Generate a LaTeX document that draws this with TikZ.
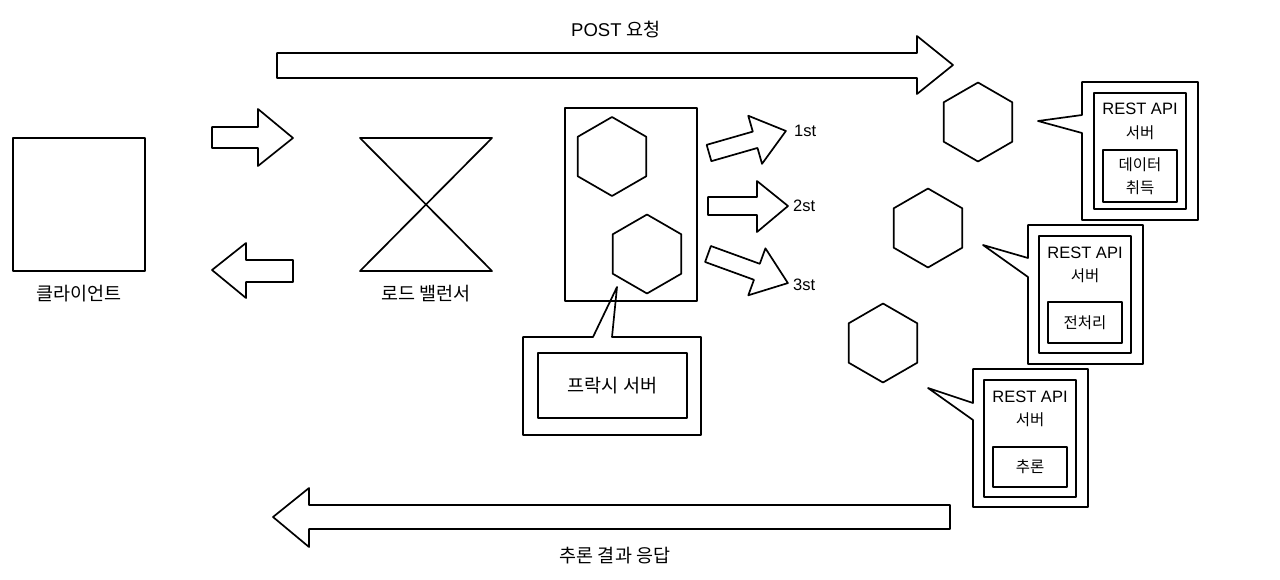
\documentclass[tikz,border=0pt]{standalone}
\usepackage{fontspec}
\setmainfont{Liberation Sans}
\newfontfamily\kr{Noto Sans CJK KR}
\usetikzlibrary{shapes.geometric}
\begin{document}
\begin{tikzpicture}[x=1pt,y=-1pt,
  ln/.style={line width=1.7pt, line join=round},
  box/.style={draw, ln, inner sep=0pt},
  hexa/.style={draw, ln, regular polygon, regular polygon sides=6, regular polygon rotate=30, minimum size=79pt, inner sep=0pt, outer sep=0pt},
  biglbl/.style={inner sep=0pt, font=\fontsize{18.5}{21}\selectfont},
  smalllbl/.style={inner sep=0pt, font=\fontsize{15.5}{18}\selectfont},
  latlbl/.style={inner sep=0pt, font=\fontsize{16.5}{19}\selectfont}]
\useasboundingbox (0,0) rectangle (1280,579);
\fill[white] (0,0) rectangle (1280,579);

% client
\node[box, minimum width=132pt, minimum height=133pt] (client) at (79,204.5) {};
\node[biglbl] (clientlbl) at (79,294) {\kr 클라이언트};

% load balancer
\coordinate (lb) at (426,204.5);
\draw[ln] (360,138) -- (492,138) -- (360,271) -- (492,271) -- cycle;
\node[biglbl] (lblbl) at (426,294) {\kr 로드 밸런서};

% client <-> LB arrows
\draw[ln] (212,127) -- (258,127) -- (258,109) -- (293,138) -- (258,166) -- (258,148) -- (212,148) -- cycle;
\draw[ln] (293,260) -- (246,260) -- (246,243) -- (212,270) -- (246,298) -- (246,282) -- (293,282) -- cycle;

% proxy box
\node[box, minimum width=132pt, minimum height=193pt] (proxy) at (631,204.5) {};
\node[hexa] (h1) at (612,156.5) {};
\node[hexa] (h2) at (647,254) {};

% proxy callout
\draw[ln] (523,337) -- (593,337) -- (617,287) -- (612,337) -- (701,337) -- (701,435) -- (523,435) -- cycle;
\node[box, minimum width=149pt, minimum height=65pt] (proxyin) at (612.5,385.5) {};
\node[biglbl] (proxylbl) at (612.5,385.5) {\kr 프락시 서버};

% 1st/2st/3st arrows
\begin{scope}[shift={(709,153)}, rotate=16]
\draw[ln] (0,-8.5) -- (48,-8.5) -- (48,-25) -- (80,0) -- (48,25) -- (48,8.5) -- (0,8.5) -- cycle;
\end{scope}
\draw[ln] (708,197) -- (757,197) -- (757,181) -- (788,206) -- (757,232) -- (757,215) -- (708,215) -- cycle;
\begin{scope}[shift={(708,254)}, rotate=-20]
\draw[ln] (0,-8.5) -- (52,-8.5) -- (52,-25) -- (85,0) -- (52,25) -- (52,8.5) -- (0,8.5) -- cycle;
\end{scope}
\node[latlbl, anchor=west] (first) at (794,131) {1st};
\node[latlbl, anchor=west] (second) at (793,206) {2st};
\node[latlbl, anchor=west] (third) at (793,285) {3st};

% top arrow
\draw[ln] (277,53) -- (917,53) -- (917,36) -- (953,65) -- (917,94) -- (917,78) -- (277,78) -- cycle;
\node[biglbl] (postlbl) at (616,30) {POST {\kr 요청}};

% bottom arrow
\draw[ln] (950,505) -- (309,505) -- (309,488) -- (273,517) -- (309,547) -- (309,529) -- (950,529) -- cycle;
\node[biglbl] (resplbl) at (615,556) {\kr 추론 결과 응답};

% right hexagons
\node[hexa] (ha) at (978,122) {};
\node[hexa] (hb) at (928,228) {};
\node[hexa] (hc) at (883,343) {};

% callout A
\draw[ln] (1082,82) -- (1198,82) -- (1198,220) -- (1082,220) -- (1082,133) -- (1038,121) -- (1082,115) -- cycle;
\node[box, minimum width=92pt, minimum height=116pt] (ain) at (1140,151) {};
\node[latlbl] (arest) at (1140,109) {REST API};
\node[smalllbl] (asrv) at (1140,133) {\kr 서버};
\node[box, minimum width=74pt, minimum height=52pt] (ainin) at (1140,176) {};
\node[smalllbl] (adata1) at (1140,165) {\kr 데이터};
\node[smalllbl] (adata2) at (1140,188) {\kr 취득};

% callout B
\draw[ln] (1028,225) -- (1143,225) -- (1143,364) -- (1028,364) -- (1028,277) -- (983,245) -- (1028,258) -- cycle;
\node[box, minimum width=92pt, minimum height=117pt] (bin) at (1085,294.5) {};
\node[latlbl] (brest) at (1085,253) {REST API};
\node[smalllbl] (bsrv) at (1085,276) {\kr 서버};
\node[box, minimum width=74pt, minimum height=41pt] (binin) at (1085,322.5) {};
\node[smalllbl] (bpre) at (1085,322.5) {\kr 전처리};

% callout C
\draw[ln] (973,369) -- (1088,369) -- (1088,507) -- (973,507) -- (973,420) -- (928,388) -- (973,403) -- cycle;
\node[box, minimum width=92pt, minimum height=117pt] (cin) at (1030,438.5) {};
\node[latlbl] (crest) at (1030,397) {REST API};
\node[smalllbl] (csrv) at (1030,420) {\kr 서버};
\node[box, minimum width=74pt, minimum height=40pt] (cinin) at (1030,467) {};
\node[smalllbl] (cinf) at (1030,467) {\kr 추론};
\end{tikzpicture}
\end{document}
